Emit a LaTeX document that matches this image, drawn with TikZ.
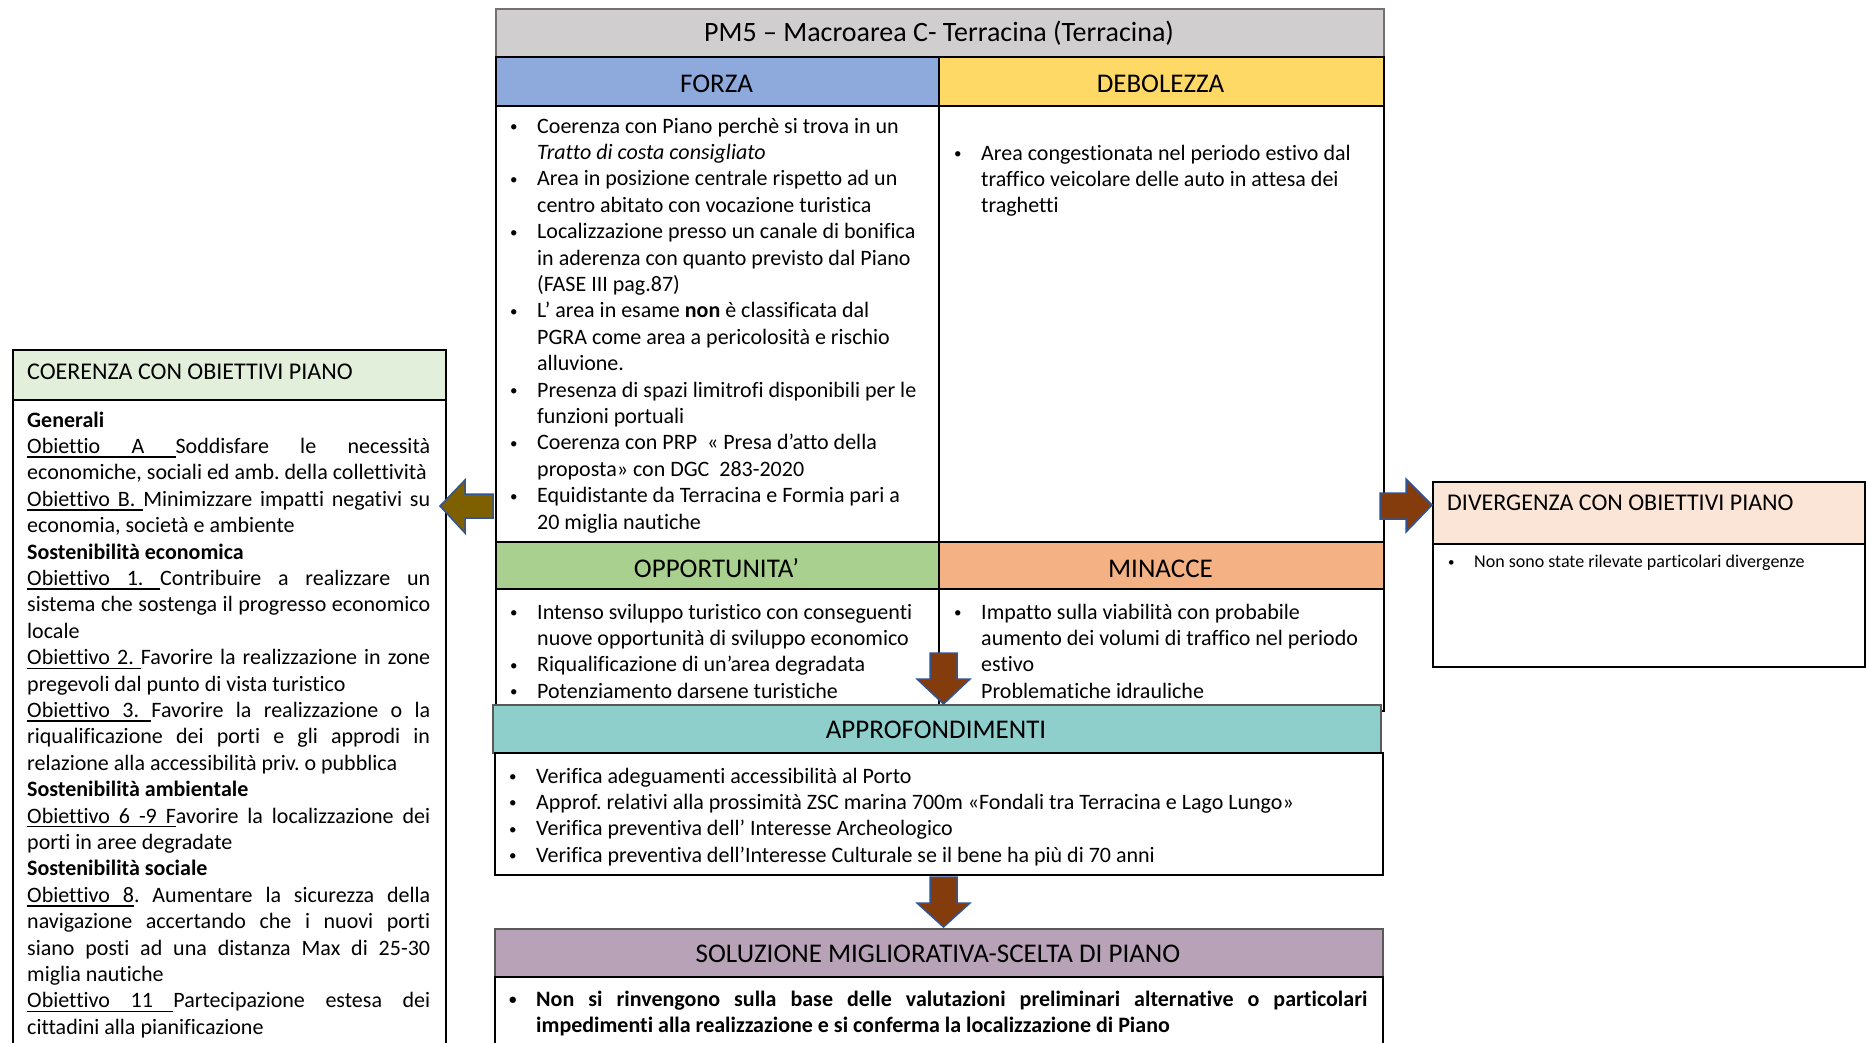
\documentclass[tikz,border=0pt]{standalone}
\usepackage{fontspec}
\setmainfont{Carlito}[Ligatures={TeX,NoCommon}]
\usetikzlibrary{calc}
\definecolor{titlegray}{HTML}{D0CECE}
\definecolor{titleedge}{HTML}{767171}
\definecolor{forzac}{HTML}{8EA9DB}
\definecolor{debc}{HTML}{FFD966}
\definecolor{oppc}{HTML}{A9D08E}
\definecolor{minc}{HTML}{F4B183}
\definecolor{appc}{HTML}{8ECFCC}
\definecolor{solc}{HTML}{B7A2B7}
\definecolor{coerc}{HTML}{E2EFDA}
\definecolor{divc}{HTML}{FBE5D6}
\definecolor{olivearr}{HTML}{7F6000}
\definecolor{brownarr}{HTML}{843C0C}
\definecolor{arredge}{HTML}{2F5597}
\definecolor{grayedge}{HTML}{595959}
\newcommand\smallbul{\raisebox{1.5pt}{\fontsize{15}{15}\selectfont\textbullet}}
\newcommand\itm{\par\hangindent=29pt\hangafter=1\noindent\makebox[29pt][l]{\hspace{2pt}\smallbul}}
\newcommand\bodyfont{\fontsize{22}{26.4}\selectfont\frenchspacing}
% underlined word and underlined stretchable space
\newcommand\uw[1]{\leavevmode\setbox0\hbox{#1}\rlap{\leaders\hrule height -3pt depth 4.4pt\hskip\wd0}\box0}
\newcommand\us{\leavevmode\leaders\hrule height -3pt depth 4.4pt\hskip\fontdimen2\font plus\fontdimen3\font minus\fontdimen4\font}
\hbadness=10000 \tolerance=10000
\begin{document}
\begin{tikzpicture}[x=1pt,y=-1pt,
  box/.style={draw=black, line width=1.6pt, inner sep=0pt, anchor=north west},
  hdr/.style={font=\fontsize{27}{32}\selectfont, anchor=base, inner sep=0pt},
  txt/.style={anchor=base west, inner sep=0pt},
  barrow/.style={draw=arredge, line width=1.5pt, line join=miter}]
\useasboundingbox[fill=white] (0,0) rectangle (1867,1042);
% ---------- SWOT table ----------
\node[box, draw=titleedge, fill=titlegray, minimum width=888pt, minimum height=48pt] (title) at (495,8) {};
\node[box, fill=forzac, minimum width=443pt, minimum height=49pt] (forzaH) at (495,56) {};
\node[box, fill=debc, minimum width=445pt, minimum height=49pt] (debH) at (938,56) {};
\node[box, minimum width=443pt, minimum height=436pt] (forzaB) at (495,105) {};
\node[box, minimum width=445pt, minimum height=436pt] (debB) at (938,105) {};
\node[box, fill=oppc, minimum width=443pt, minimum height=47pt] (oppH) at (495,541) {};
\node[box, fill=minc, minimum width=445pt, minimum height=47pt] (minH) at (938,541) {};
\node[box, minimum width=443pt, minimum height=122pt] (oppB) at (495,588) {};
\node[box, minimum width=445pt, minimum height=122pt] (minB) at (938,588) {};
\node[hdr, font=\fontsize{28}{33}\selectfont] (titleT) at (939,41) {PM5 – Macroarea C- Terracina (Terracina)};
\node[hdr] (forzaT) at (716.5,92) {FORZA};
\node[hdr] (debT) at (1160.5,92) {DEBOLEZZA};
\node[hdr] (oppT) at (716.5,577) {OPPORTUNITA’};
\node[hdr] (minT) at (1160.5,577) {MINACCE};
\node[txt] (forzaX) at (508,133) {\begin{minipage}[t]{430pt}\bodyfont\raggedright
\itm Coerenza con Piano perchè si trova in un\newline \textit{Tratto di costa consigliato}
\itm Area in posizione centrale rispetto ad un\newline centro abitato con vocazione turistica
\itm Localizzazione presso un canale di bonifica\newline in aderenza con quanto previsto dal Piano\newline (FASE III pag.87)
\itm L’ area in esame \textbf{non} è classificata dal\newline PGRA come area a pericolosità e rischio\newline alluvione.
\itm Presenza di spazi limitrofi disponibili per le\newline funzioni portuali
\itm Coerenza con PRP\ \ « Presa d’atto della\newline proposta» con DGC\ \ 283-2020
\itm Equidistante da Terracina e Formia pari a\newline 20 miglia nautiche\par
\end{minipage}};
\node[txt] (debX) at (952,160) {\begin{minipage}[t]{430pt}\bodyfont\raggedright
\itm Area congestionata nel periodo estivo dal\newline traffico veicolare delle auto in attesa dei\newline traghetti\par
\end{minipage}};
\node[txt] (oppX) at (508,619) {\begin{minipage}[t]{430pt}\bodyfont\raggedright
\itm Intenso sviluppo turistico con conseguenti\newline nuove opportunità di sviluppo economico
\itm Riqualificazione di un’area degradata
\itm Potenziamento darsene turistiche\par
\end{minipage}};
\node[txt] (minX) at (952,619) {\begin{minipage}[t]{430pt}\bodyfont\raggedright
\itm Impatto sulla viabilità con probabile\newline aumento dei volumi di traffico nel periodo\newline estivo\newline Problematiche idrauliche\par
\end{minipage}};
% ---------- Approfondimenti ----------
\node[box, draw=grayedge, fill=appc, minimum width=888pt, minimum height=48pt] (appH) at (492,704) {};
\node[hdr] (appT) at (936,738) {APPROFONDIMENTI};
\node[box, minimum width=888pt, minimum height=122pt] (appB) at (494,752) {};
\node[txt] (appX) at (507,783) {\begin{minipage}[t]{860pt}\bodyfont\raggedright
\itm Verifica adeguamenti accessibilità al Porto
\itm Approf. relativi alla prossimità ZSC marina 700m «Fondali tra Terracina e Lago Lungo»
\itm Verifica preventiva dell’ Interesse Archeologico
\itm Verifica preventiva dell’Interesse Culturale se il bene ha più di 70 anni\par
\end{minipage}};
% ---------- Soluzione ----------
\node[box, draw=grayedge, fill=solc, minimum width=888pt, minimum height=48pt] (solH) at (494,928) {};
\node[hdr] (solT) at (938,962) {SOLUZIONE MIGLIORATIVA-SCELTA DI PIANO};
\node[box, minimum width=888pt, minimum height=100pt] (solB) at (494,976) {};
\node[txt] (solX) at (507,1006) {\begin{minipage}[t]{860pt}\bodyfont\bfseries
\itm Non si rinvengono sulla base delle valutazioni preliminari alternative o particolari\linebreak impedimenti alla realizzazione e si conferma la localizzazione di Piano\par
\end{minipage}};
% ---------- Coerenza (left) ----------
\node[box, fill=coerc, minimum width=433pt, minimum height=50pt] (coerH) at (12,349) {};
\node[txt] (coerT) at (27,379) {\fontsize{24}{29}\selectfont COERENZA CON OBIETTIVI PIANO};
\node[box, minimum width=433pt, minimum height=680pt] (coerB) at (12,399) {};
\node[txt] (coerX) at (27,427) {\begin{minipage}[t]{403pt}\bodyfont\parindent=0pt
\textbf{Generali}\par
\uw{Obiettio}\us\uw{A}\us Soddisfare le necessità\linebreak economiche, sociali ed amb. della collettività\par
\uw{Obiettivo}\us\uw{B.}\us Minimizzare impatti negativi su\linebreak economia, società e ambiente\par
\textbf{Sostenibilità economica}\par
\uw{Obiettivo}\us\uw{1.}\us Contribuire a realizzare un\linebreak sistema che sostenga il progresso economico\linebreak locale\par
\uw{Obiettivo}\us\uw{2.}\us Favorire la realizzazione in zone\linebreak pregevoli dal punto di vista turistico\par
\uw{Obiettivo}\us\uw{3.}\us Favorire la realizzazione o la\linebreak riqualificazione dei porti e gli approdi in\linebreak relazione alla accessibilità priv. o pubblica\par
\textbf{Sostenibilità ambientale}\par
\uw{Obiettivo}\us\uw{6}\us\uw{-9}\us\uw{F}avorire la localizzazione dei\linebreak porti in aree degradate\par
\textbf{Sostenibilità sociale}\par
\uw{Obiettivo}\us\uw{8}. Aumentare la sicurezza della\linebreak navigazione accertando che i nuovi porti\linebreak siano posti ad una distanza Max di 25-30\linebreak miglia nautiche\par
\uw{Obiettivo}\us\uw{11}\us Partecipazione estesa dei\linebreak cittadini alla pianificazione\par
\end{minipage}};
% ---------- Divergenza (right) ----------
\node[box, fill=divc, minimum width=432pt, minimum height=62pt] (divH) at (1432,481) {};
\node[txt] (divT) at (1447,510) {\fontsize{24}{29}\selectfont DIVERGENZA CON OBIETTIVI PIANO};
\node[box, minimum width=432pt, minimum height=123pt] (divB) at (1432,543) {};
\node[txt] (divX) at (1448,567) {\fontsize{18}{22}\selectfont\makebox[26pt][l]{\raisebox{1pt}{\fontsize{13}{13}\selectfont\textbullet}}Non sono state rilevate particolari divergenze};
% ---------- Block arrows ----------
\draw[barrow, fill=olivearr] (440,506) -- (465,480) -- (465,494) -- (493,494) -- (493,518) -- (465,518) -- (465,533) -- cycle;
\draw[barrow, fill=brownarr] (1432,505) -- (1406,479) -- (1406,493) -- (1380,493) -- (1380,519) -- (1406,519) -- (1406,532) -- cycle;
\draw[barrow, fill=brownarr] (943.5,704) -- (917,679) -- (930,679) -- (930,653) -- (957,653) -- (957,679) -- (970,679) -- cycle;
\draw[barrow, fill=brownarr] (943.5,927) -- (917,903) -- (930,903) -- (930,877) -- (957,877) -- (957,903) -- (970,903) -- cycle;
\end{tikzpicture}
\end{document}
